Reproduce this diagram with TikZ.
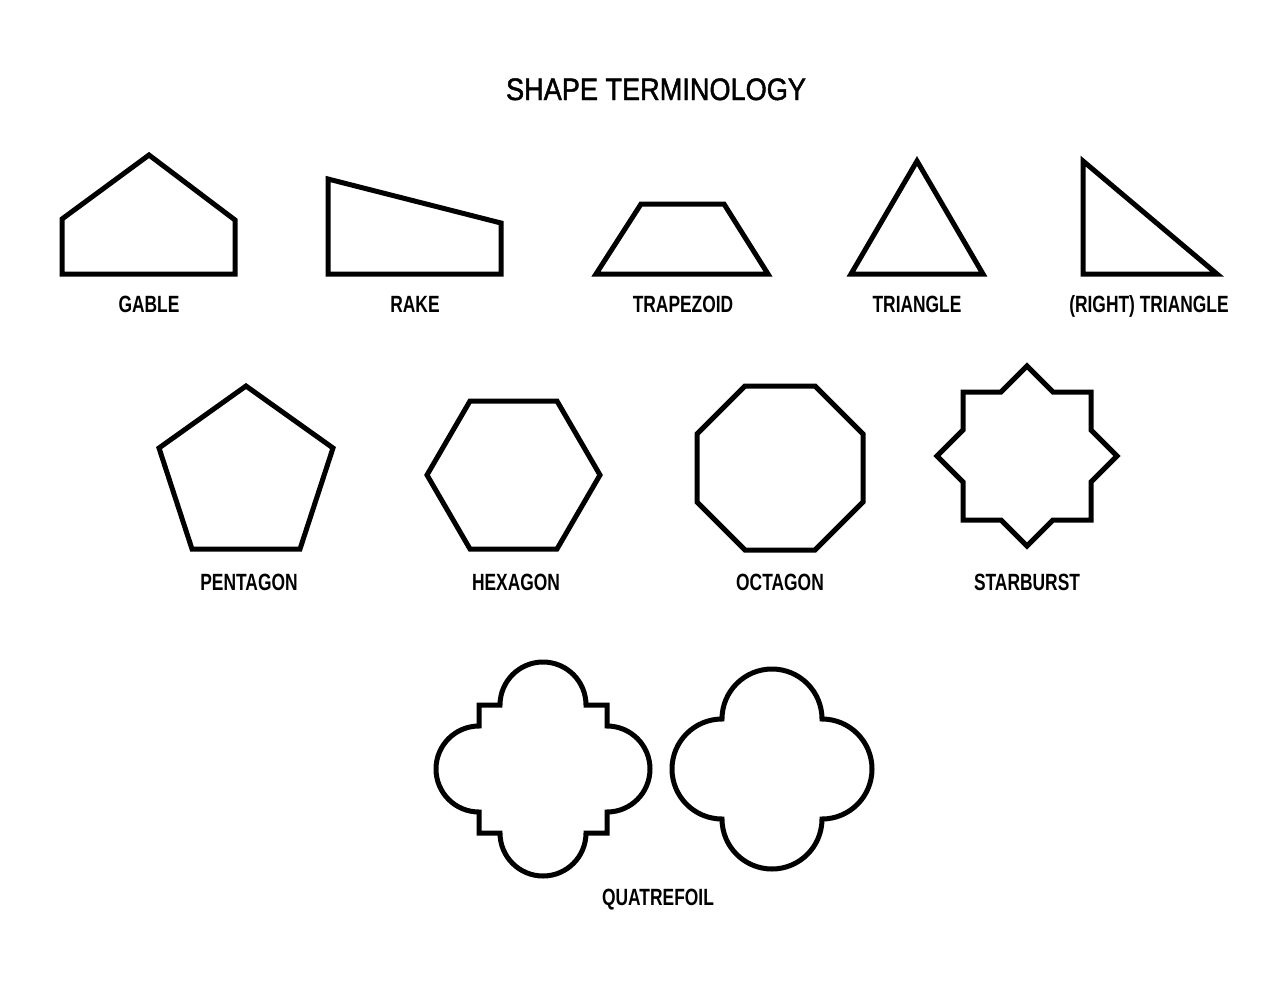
\documentclass[tikz,border=0pt]{standalone}
\usepackage{fontspec}
\setmainfont[FakeStretch=0.74]{Liberation Sans}
\newfontfamily\titlefont[FakeStretch=0.875,FakeBold=1.5]{Liberation Sans}
\newfontfamily\labelfont[FakeStretch=0.74]{Liberation Sans}
\begin{document}
\begin{tikzpicture}[x=1pt,y=-1pt,
  shapeline/.style={draw=black,line width=5pt,line join=miter},
  lbl/.style={anchor=base,inner sep=0pt,font=\labelfont\bfseries\fontsize{23.5}{24}\selectfont},
  ttl/.style={anchor=base,inner sep=0pt,font=\titlefont\fontsize{31}{32}\selectfont}]
\useasboundingbox (0,0) rectangle (1280,989);
\fill[white] (0,0) rectangle (1280,989);
\node[ttl] (title) at (656,100) {SHAPE TERMINOLOGY};
% row 1
\draw[shapeline] (62,274) -- (235,274) -- (235,220) -- (149,155) -- (62,219) -- cycle;
\node[lbl] (gable) at (149,312) {GABLE};
\draw[shapeline] (328,179) -- (328,274) -- (501,274) -- (501,223) -- cycle;
\node[lbl] (rake) at (415,312) {RAKE};
\draw[shapeline] (596,274) -- (768,274) -- (724,204) -- (641,204) -- cycle;
\node[lbl] (trap) at (683,312) {TRAPEZOID};
\draw[shapeline] (851,274) -- (983,274) -- (917,161) -- cycle;
\node[lbl] (tri) at (917,312) {TRIANGLE};
\draw[shapeline] (1083,161) -- (1083,274) -- (1217,274) -- cycle;
\node[lbl] (rtri) at (1149,312) {(RIGHT) TRIANGLE};
% row 2
\draw[shapeline] (246,386) -- (333,448) -- (300,549) -- (192,549) -- (159,448) -- cycle;
\node[lbl] (pent) at (249,590) {PENTAGON};
\draw[shapeline] (427,475) -- (470,401) -- (557,401) -- (600,475) -- (557,549) -- (470,549) -- cycle;
\node[lbl] (hex) at (516,590) {HEXAGON};
\draw[shapeline] (745,386) -- (815,386) -- (863,434) -- (863,502) -- (815,550) -- (745,550) -- (697,502) -- (697,434) -- cycle;
\node[lbl] (oct) at (780,590) {OCTAGON};
\begin{scope}[shift={(1027,456)}]
\draw[shapeline] (0,-90) -- (26,-64) -- (64,-64) -- (64,-26) -- (90,0) -- (64,26) -- (64,64) -- (26,64)
  -- (0,90) -- (-26,64) -- (-64,64) -- (-64,26) -- (-90,0) -- (-64,-26) -- (-64,-64) -- (-26,-64) -- cycle;
\end{scope}
\node[lbl] (star) at (1027,590) {STARBURST};
% row 3
\begin{scope}[shift={(543,769)}]
\draw[shapeline] (-43,-64) arc[start angle=180,end angle=360,radius=43]
  -- (64,-64) -- (64,-43) arc[start angle=270,end angle=450,radius=43]
  -- (64,64) -- (43,64) arc[start angle=0,end angle=180,radius=43]
  -- (-64,64) -- (-64,43) arc[start angle=90,end angle=270,radius=43]
  -- (-64,-64) -- cycle;
\end{scope}
\begin{scope}[shift={(772,769)}]
\draw[shapeline] (-50,-50) arc[start angle=180,end angle=360,radius=50]
  arc[start angle=270,end angle=450,radius=50]
  arc[start angle=0,end angle=180,radius=50]
  arc[start angle=90,end angle=270,radius=50] -- cycle;
\end{scope}
\node[lbl] (quat) at (658,905) {QUATREFOIL};
\end{tikzpicture}
\end{document}
